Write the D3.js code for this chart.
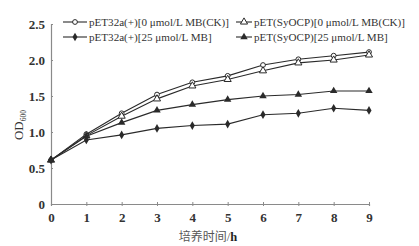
<!DOCTYPE html>
<html><head><meta charset="utf-8">
<script src="https://cdn.jsdelivr.net/npm/d3@7"></script>
<style>body{margin:0;background:#fff}svg{display:block}</style>
</head><body><svg id="c" width="419" height="246"></svg>
<script>
const hours = [0,1,2,3,4,5,6,7,8,9];
const yTicks = [0,0.5,1.0,1.5,2.0,2.5];
const pET32a_0 = [0.61,0.97,1.26,1.52,1.69,1.78,1.93,2.01,2.06,2.11];
const pETSyOCP_0 = [0.61,0.95,1.22,1.46,1.64,1.73,1.85,1.96,2.00,2.07];
const pET32a_25 = [0.61,0.89,0.96,1.05,1.09,1.11,1.24,1.26,1.33,1.30];
const pETSyOCP_25 = [0.61,0.94,1.13,1.30,1.38,1.45,1.50,1.52,1.57,1.57];
const seriesNames = ["pET32a(+)[0 μmol/L MB(CK)]","pET(SyOCP)[0 μmol/L MB(CK)]","pET32a(+)[25 μmol/L MB]","pET(SyOCP)[25 μmol/L MB]"];
const markers = ["circle-open","triangle-open","diamond","triangle"];
const series = [pET32a_0, pETSyOCP_0, pET32a_25, pETSyOCP_25];

const svg = d3.select("#c");
const x = d3.scaleLinear().domain([0,9]).range([51,369]);
const y = d3.scaleLinear().domain([0,2.5]).range([204,24]);
const font = "'Liberation Serif','Times New Roman',serif";
const lineCol = "#2a2a2a", axisCol = "#8a8a8a";

// axes
const gx = svg.append("g").attr("transform","translate(0,204)")
  .call(d3.axisBottom(x).tickValues(hours).tickSize(2).tickPadding(7).tickFormat(d3.format("d")));
const gy = svg.append("g").attr("transform","translate(51,0)")
  .call(d3.axisLeft(y).tickValues(yTicks).tickSize(-2).tickPadding(6).tickFormat(d=>d===0?"0":d3.format(".1f")(d)));
[gx,gy].forEach(g=>{
  g.select(".domain").attr("stroke",axisCol).attr("stroke-width",1.2);
  g.selectAll(".tick line").attr("stroke",axisCol);
  g.selectAll("text").attr("font-family",font).attr("font-size",13).attr("font-weight","bold").attr("fill","#333");
});
gx.selectAll(".tick line").attr("y1",-2).attr("y2",2);

// axis titles
svg.append("text").attr("x",208).attr("y",241).attr("text-anchor","middle")
  .attr("font-family",font).attr("font-size",12.5).attr("fill","#555")
  .html('<tspan font-family="\'Noto Sans CJK SC\'" font-size="12">培养时间</tspan>/<tspan font-weight="bold" fill="#222">h</tspan>');
const yl = svg.append("text").attr("transform","translate(23,125) rotate(-90)").attr("text-anchor","middle")
  .attr("font-family",font).attr("font-size",13).attr("fill","#333");
yl.append("tspan").text("OD");
yl.append("tspan").attr("font-size",7.5).attr("dy",3).text("600");

function drawMarker(g, type, cx, cy){
  if(type==="circle-open") g.append("circle").attr("cx",cx).attr("cy",cy).attr("r",2.4).attr("fill","#fff").attr("stroke",lineCol).attr("stroke-width",1);
  else if(type==="triangle-open") g.append("path").attr("d",d3.symbol(d3.symbolTriangle,22)()).attr("transform",`translate(${cx},${cy})`).attr("fill","#fff").attr("stroke",lineCol).attr("stroke-width",1);
  else if(type==="triangle") g.append("path").attr("d",d3.symbol(d3.symbolTriangle,24)()).attr("transform",`translate(${cx},${cy})`).attr("fill",lineCol);
  else if(type==="diamond") g.append("path").attr("d",d3.symbol(d3.symbolDiamond,22)()).attr("transform",`translate(${cx},${cy})`).attr("fill",lineCol);
}

const line = d3.line().x((d,i)=>x(hours[i])).y(d=>y(d));
series.forEach((s,k)=>{
  const g = svg.append("g");
  g.append("path").datum(s).attr("d",line).attr("fill","none").attr("stroke",lineCol).attr("stroke-width",1.1);
  s.forEach((v,i)=>drawMarker(g, markers[k], x(hours[i]), y(v)));
});

// legend
const legPos = [[63,22],[236,22],[63,37],[236,37]];
const legLen = [24,16,24,16];
seriesNames.forEach((n,k)=>{
  const [lx,ly] = legPos[k];
  const g = svg.append("g");
  g.append("line").attr("x1",lx).attr("x2",lx+legLen[k]).attr("y1",ly).attr("y2",ly).attr("stroke",lineCol).attr("stroke-width",1.1);
  drawMarker(g, markers[k], lx+legLen[k]/2, ly);
  g.append("text").attr("x",lx+legLen[k]+2).attr("y",ly+4).attr("font-family",font).attr("font-size",11.1).attr("fill","#333").text(n);
});
</script></body></html>
